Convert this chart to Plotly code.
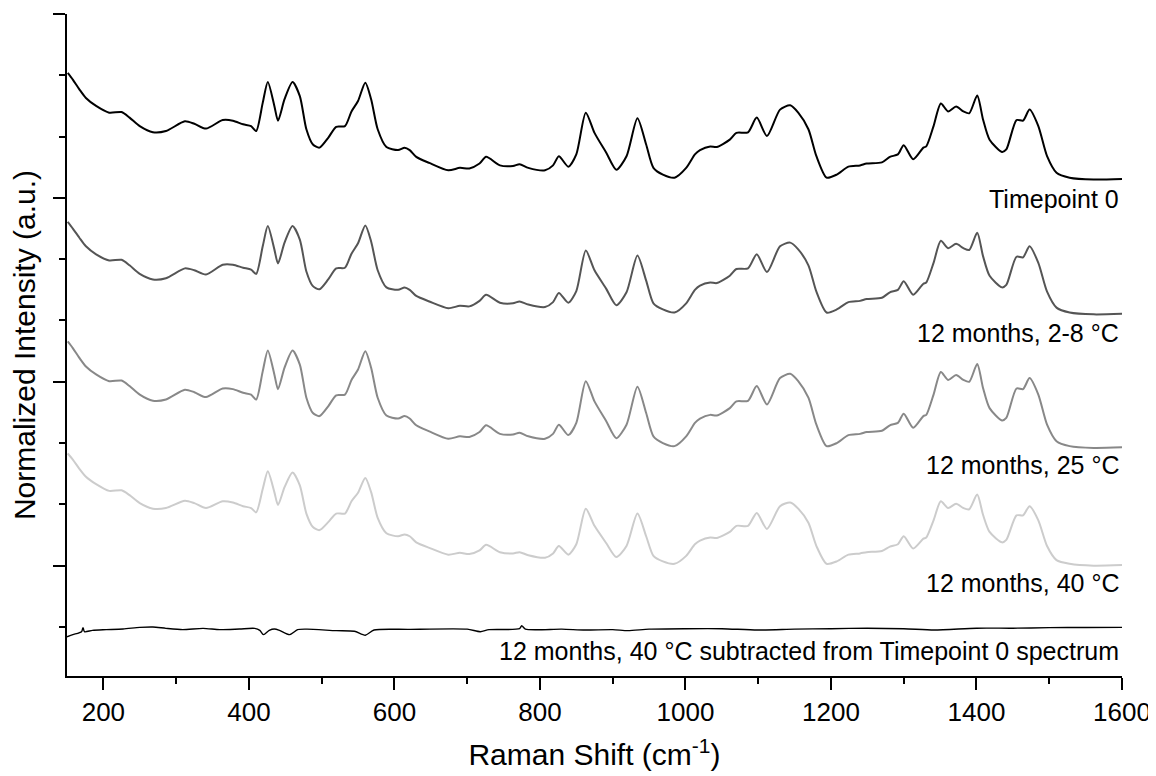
import plotly.graph_objects as go

# Raman shift grid (cm^-1) for the stacked spectra
WAVENUMBER = [151, 158, 167, 176, 190, 208, 225, 236, 250, 268, 286, 312, 325, 341, 364, 378, 392, 403, 410,
              419, 426, 435, 440, 449, 460, 470, 479, 488, 497, 509, 520, 532, 541, 550, 560, 568, 577, 589,
              605, 614, 621, 630, 648, 674, 690, 703, 717, 726, 745, 763, 772, 784, 807, 818, 826, 839, 850,
              863, 875, 891, 905, 919, 934, 946, 956, 969, 985, 1001, 1013, 1020, 1034, 1043, 1061, 1070,
              1086, 1098, 1112, 1130, 1144, 1155, 1169, 1180, 1194, 1208, 1224, 1240, 1249, 1270, 1281,
              1292, 1300, 1313, 1327, 1331, 1341, 1351, 1361, 1372, 1382, 1390, 1401, 1409, 1418, 1435,
              1441, 1455, 1464, 1473, 1485, 1497, 1510, 1528, 1561, 1600]

# Normalized intensity (a.u.), each relative to its own flat end
SPEC_T0 = [1.74, 1.63, 1.47, 1.33, 1.20, 1.09, 1.10, 1.01, 0.87, 0.77, 0.79, 0.95, 0.91, 0.83, 0.97, 0.96,
           0.90, 0.87, 0.79, 1.25, 1.59, 1.20, 0.96, 1.31, 1.59, 1.36, 0.82, 0.57, 0.52, 0.68, 0.86, 0.87,
           1.11, 1.28, 1.58, 1.31, 0.82, 0.53, 0.48, 0.52, 0.48, 0.37, 0.27, 0.15, 0.19, 0.18, 0.26, 0.37,
           0.23, 0.22, 0.25, 0.19, 0.15, 0.23, 0.38, 0.21, 0.41, 1.09, 0.76, 0.44, 0.16, 0.38, 1.00, 0.57,
           0.19, 0.08, 0.03, 0.19, 0.41, 0.48, 0.54, 0.53, 0.65, 0.76, 0.77, 1.01, 0.71, 1.14, 1.21, 1.09,
           0.82, 0.38, 0.03, 0.08, 0.21, 0.23, 0.26, 0.28, 0.37, 0.41, 0.56, 0.33, 0.52, 0.54, 0.87, 1.24,
           1.11, 1.19, 1.11, 1.08, 1.37, 0.98, 0.65, 0.45, 0.49, 0.97, 0.96, 1.14, 0.87, 0.38, 0.11, 0.03,
           0.00, 0.01]

SPEC_28C = [1.51, 1.40, 1.25, 1.11, 0.98, 0.88, 0.89, 0.80, 0.66, 0.57, 0.59, 0.75, 0.72, 0.65, 0.81, 0.81,
            0.76, 0.73, 0.66, 1.11, 1.44, 1.06, 0.83, 1.17, 1.44, 1.22, 0.70, 0.46, 0.41, 0.57, 0.75, 0.76,
            0.99, 1.16, 1.45, 1.19, 0.72, 0.44, 0.40, 0.44, 0.40, 0.30, 0.21, 0.10, 0.14, 0.13, 0.22, 0.32,
            0.19, 0.18, 0.21, 0.16, 0.12, 0.20, 0.35, 0.19, 0.38, 1.04, 0.72, 0.42, 0.15, 0.36, 0.96, 0.55,
            0.18, 0.08, 0.03, 0.18, 0.40, 0.47, 0.52, 0.51, 0.63, 0.74, 0.75, 0.98, 0.69, 1.11, 1.17, 1.06,
            0.80, 0.37, 0.03, 0.08, 0.20, 0.22, 0.25, 0.27, 0.36, 0.40, 0.54, 0.32, 0.50, 0.52, 0.84, 1.20,
            1.08, 1.15, 1.08, 1.05, 1.33, 0.95, 0.63, 0.44, 0.48, 0.94, 0.93, 1.11, 0.84, 0.37, 0.11, 0.03,
            0.00, 0.01]

SPEC_25C = [1.74, 1.63, 1.47, 1.33, 1.20, 1.09, 1.10, 1.01, 0.87, 0.77, 0.79, 0.95, 0.91, 0.83, 0.97, 0.96,
            0.90, 0.87, 0.79, 1.25, 1.59, 1.20, 0.96, 1.31, 1.59, 1.36, 0.82, 0.57, 0.52, 0.68, 0.86, 0.87,
            1.11, 1.28, 1.58, 1.31, 0.82, 0.53, 0.48, 0.52, 0.48, 0.37, 0.27, 0.15, 0.19, 0.18, 0.26, 0.37,
            0.23, 0.22, 0.25, 0.19, 0.15, 0.23, 0.38, 0.21, 0.41, 1.09, 0.76, 0.44, 0.16, 0.38, 1.00, 0.57,
            0.19, 0.08, 0.03, 0.19, 0.41, 0.48, 0.54, 0.53, 0.65, 0.76, 0.77, 1.01, 0.71, 1.14, 1.21, 1.09,
            0.82, 0.38, 0.03, 0.08, 0.21, 0.23, 0.26, 0.28, 0.37, 0.41, 0.56, 0.33, 0.52, 0.54, 0.87, 1.24,
            1.11, 1.19, 1.11, 1.08, 1.37, 0.98, 0.65, 0.45, 0.49, 0.97, 0.96, 1.14, 0.87, 0.38, 0.11, 0.03,
            0.00, 0.01]

SPEC_40C = [1.83, 1.73, 1.58, 1.45, 1.33, 1.22, 1.23, 1.15, 1.02, 0.93, 0.94, 1.06, 1.02, 0.94, 1.05, 1.03,
            0.97, 0.94, 0.87, 1.25, 1.54, 1.20, 0.99, 1.28, 1.52, 1.31, 0.85, 0.63, 0.58, 0.71, 0.85, 0.85,
            1.05, 1.19, 1.43, 1.20, 0.78, 0.53, 0.48, 0.51, 0.48, 0.38, 0.29, 0.18, 0.21, 0.19, 0.25, 0.34,
            0.22, 0.20, 0.22, 0.17, 0.13, 0.20, 0.32, 0.18, 0.35, 0.93, 0.65, 0.37, 0.14, 0.32, 0.85, 0.48,
            0.16, 0.07, 0.03, 0.16, 0.35, 0.41, 0.46, 0.45, 0.55, 0.65, 0.65, 0.86, 0.60, 0.97, 1.03, 0.93,
            0.70, 0.32, 0.03, 0.07, 0.18, 0.20, 0.22, 0.24, 0.31, 0.35, 0.48, 0.28, 0.44, 0.46, 0.74, 1.05,
            0.94, 1.01, 0.94, 0.92, 1.16, 0.83, 0.55, 0.38, 0.42, 0.82, 0.82, 0.97, 0.74, 0.32, 0.09, 0.03,
            0.00, 0.01]

# Difference spectrum (12 months 40 C subtracted from Timepoint 0)
DIFF_X = [150, 158, 170, 172, 174, 185, 204, 227, 250, 268, 286, 309, 337, 360, 387, 408, 415, 420, 428,
          435, 442, 456, 467, 480, 520, 545, 560, 572, 620, 700, 718, 730, 772, 775, 780, 830, 862, 900,
          921, 950, 1000, 1050, 1099, 1150, 1200, 1250, 1300, 1342, 1400, 1450, 1500, 1550, 1600]
DIFF_Y = [-0.16, -0.125, -0.077, -0.01, -0.077, -0.055, -0.044, -0.033, -0.007, 0.0, -0.023, -0.044, -0.023,
          -0.044, -0.033, -0.023, -0.055, -0.125, -0.055, -0.033, -0.055, -0.125, -0.044, -0.036, -0.06,
          -0.07, -0.135, -0.05, -0.04, -0.036, -0.077, -0.044, -0.028, 0.02, -0.036, -0.036, -0.05, -0.044,
          -0.06, -0.036, -0.028, -0.028, -0.05, -0.036, -0.028, -0.02, -0.028, -0.05, -0.02, -0.02, -0.011,
          -0.008, -0.006]

LABELS = ["Timepoint 0", "12 months, 2-8 °C", "12 months, 25 °C", "12 months, 40 °C",
          "12 months, 40 °C subtracted from Timepoint 0 spectrum"]
OFFSETS = [6.3, 4.1, 1.92, 0.0, -1.0]
COLORS = ["#000000", "#555555", "#888888", "#cccccc", "#000000"]
WIDTHS = [2, 2, 2, 2, 1.4]
LABEL_Y = [5.99, 3.8, 1.65, -0.28, -1.4]

fig = go.Figure()
series = [(WAVENUMBER, SPEC_T0), (WAVENUMBER, SPEC_28C), (WAVENUMBER, SPEC_25C),
          (WAVENUMBER, SPEC_40C), (DIFF_X, DIFF_Y)]
for i, (xs, ys) in enumerate(series):
    fig.add_trace(go.Scatter(
        x=xs, y=[v + OFFSETS[i] for v in ys], mode="lines", name=LABELS[i],
        line=dict(color=COLORS[i], width=WIDTHS[i], shape="spline", smoothing=0.7),
        showlegend=False, hoverinfo="skip"))
    fig.add_annotation(x=1600, xref="x", y=LABEL_Y[i], yref="y", text=LABELS[i],
                       showarrow=False, xanchor="right", yanchor="middle", xshift=-1,
                       font=dict(size=25, color="#000000"))

fig.update_layout(
    width=1156, height=776,
    margin=dict(l=59, r=42, t=6, b=108),
    paper_bgcolor="white", plot_bgcolor="white",
    font=dict(family="Liberation Sans, Arial, sans-serif", color="#000000", size=26),
)
fig.update_xaxes(
    range=[150, 1600], tickvals=[200, 400, 600, 800, 1000, 1200, 1400, 1600], automargin=False,
    ticks="outside", ticklen=12, tickwidth=2, tickcolor="black",
    minor=dict(tickvals=[300, 500, 700, 900, 1100, 1300, 1500], ticks="outside", ticklen=6, tickwidth=2,
               tickcolor="black"),
    showline=True, linewidth=2, linecolor="black", showgrid=False, zeroline=False,
    tickfont=dict(size=26), title=dict(text="Raman Shift (cm<sup>-1</sup>)", font=dict(size=30), standoff=18),
)
fig.update_yaxes(
    range=[-1.8, 9.0], tickvals=[0, 3, 6, 9], showticklabels=False, automargin=False,
    ticks="outside", ticklen=12, tickwidth=2, tickcolor="black",
    minor=dict(tickvals=[-1, 1, 2, 4, 5, 7, 8], ticks="outside", ticklen=6, tickwidth=2, tickcolor="black"),
    showline=True, linewidth=2, linecolor="black", showgrid=False, zeroline=False,
    title=dict(text="Normalized Intensity (a.u.)", font=dict(size=30), standoff=15),
)

fig.write_html("out.html")
